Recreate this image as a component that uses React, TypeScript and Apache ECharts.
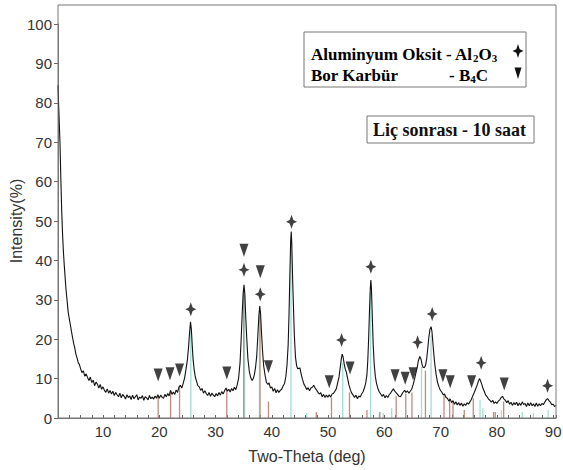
import React, { useEffect, useRef } from "react";
import * as echarts from "echarts";

// Measured XRD scan: [two-theta (deg), intensity (%)]
const PATTERN: [number, number][] = [
  [2.0, 84.5], [2.1, 80], [2.2, 76], [2.35, 70], [2.5, 61], [2.65, 53], [2.8, 47], [2.95, 42.5],
  [3.1, 39], [3.25, 36], [3.4, 33], [3.6, 30], [3.8, 27], [4.0, 25.2], [4.2, 23.6], [4.4, 21.9],
  [4.6, 20.3], [4.8, 18.8], [5.0, 17.6], [5.2, 16.1], [5.4, 15.2], [5.6, 14.0], [5.8, 13.6],
  [6.0, 12.6], [6.25, 11.5], [6.5, 12.0], [6.75, 10.6], [7.0, 11.2], [7.25, 10.3], [7.5, 9.5],
  [7.75, 10.4], [8.0, 9.0], [8.25, 9.6], [8.5, 8.2], [8.75, 9.1], [9.0, 8.6], [9.25, 7.6],
  [9.5, 8.5], [9.75, 7.3], [10.0, 7.9], [10.25, 7.0], [10.5, 6.5], [10.75, 7.4], [11.0, 6.3],
  [11.25, 7.0], [11.5, 6.1], [11.75, 6.8], [12.0, 5.7], [12.25, 6.5], [12.5, 5.9], [12.75, 5.4],
  [13.0, 6.3], [13.25, 5.1], [13.5, 6.0], [13.75, 5.5], [14.0, 4.8], [14.25, 5.9], [14.5, 5.2],
  [14.75, 5.6], [15.0, 4.7], [15.25, 5.8], [15.5, 4.9], [15.75, 5.4], [16.0, 5.9], [16.25, 4.6],
  [16.5, 5.3], [16.75, 5.0], [17.0, 5.7], [17.25, 4.5], [17.5, 5.4], [17.75, 5.1], [18.0, 4.6],
  [18.25, 5.7], [18.5, 4.9], [18.75, 5.3], [19.0, 4.8], [19.25, 5.6], [19.5, 5.0], [19.75, 5.9],
  [20.0, 5.0], [20.25, 5.8], [20.5, 5.3], [20.75, 5.0], [21.0, 6.0], [21.25, 5.4], [21.5, 6.2],
  [21.75, 5.6], [22.0, 7.0], [22.25, 6.0], [22.5, 6.6], [22.75, 6.0], [23.0, 7.1], [23.25, 6.5],
  [23.5, 7.9], [23.75, 8.3], [24.0, 7.6], [24.25, 8.8], [24.5, 10.2], [24.75, 12.4],
  [25.0, 14.8], [25.2, 18.0], [25.4, 22.0], [25.55, 24.4], [25.7, 22.5], [25.85, 18.5],
  [26.0, 15.0], [26.2, 12.2], [26.4, 10.4], [26.6, 9.4], [26.85, 8.2], [27.1, 7.9], [27.35, 7.0],
  [27.6, 7.5], [27.85, 6.3], [28.1, 6.9], [28.35, 6.2], [28.6, 5.7], [28.85, 6.5], [29.1, 5.5],
  [29.35, 6.3], [29.6, 5.8], [29.85, 5.4], [30.1, 6.2], [30.35, 5.6], [30.6, 6.5], [30.85, 5.8],
  [31.1, 6.7], [31.35, 6.1], [31.6, 6.9], [31.85, 7.6], [32.1, 6.8], [32.35, 7.3], [32.6, 6.6],
  [32.85, 7.5], [33.1, 6.9], [33.35, 7.8], [33.6, 7.2], [33.85, 8.4], [34.1, 10.2], [34.35, 14.0],
  [34.55, 20.0], [34.75, 27.0], [34.9, 31.5], [35.05, 33.8], [35.2, 31.5], [35.35, 26.0],
  [35.55, 20.0], [35.75, 15.0], [36.0, 11.8], [36.25, 10.2], [36.5, 9.5], [36.7, 10.0],
  [36.9, 11.0], [37.1, 12.8], [37.3, 15.5], [37.5, 20.5], [37.7, 26.0], [37.85, 28.4],
  [38.0, 26.5], [38.15, 22.0], [38.35, 17.0], [38.55, 13.2], [38.8, 10.8], [39.05, 9.0],
  [39.3, 8.5], [39.5, 8.9], [39.75, 7.6], [40.0, 7.9], [40.25, 6.8], [40.5, 7.5], [40.75, 6.4],
  [41.0, 7.2], [41.25, 6.5], [41.5, 7.0], [41.75, 7.3], [42.0, 8.1], [42.25, 8.7], [42.5, 10.6],
  [42.7, 13.5], [42.9, 18.5], [43.05, 26], [43.2, 36], [43.35, 45], [43.45, 47.3], [43.55, 44],
  [43.7, 35], [43.85, 28], [44.0, 21], [44.2, 15.5], [44.4, 13.3], [44.6, 12.5], [44.8, 12.6],
  [45.0, 12.7], [45.2, 11.2], [45.45, 9.8], [45.7, 8.6], [45.95, 8.0], [46.2, 7.2], [46.45, 7.7],
  [46.7, 6.9], [46.95, 7.6], [47.2, 7.8], [47.45, 8.3], [47.7, 7.6], [47.95, 7.1], [48.2, 6.5],
  [48.45, 6.1], [48.7, 6.4], [48.95, 5.4], [49.2, 6.0], [49.45, 5.2], [49.7, 5.8], [49.95, 5.3],
  [50.2, 5.9], [50.45, 5.3], [50.7, 6.1], [50.95, 6.2], [51.2, 6.8], [51.45, 7.4], [51.7, 8.9],
  [51.95, 10.5], [52.15, 12.8], [52.35, 15.0], [52.5, 16.2], [52.65, 15.6], [52.85, 13.8],
  [53.05, 12.4], [53.25, 11.6], [53.45, 10.2], [53.7, 8.4], [53.95, 7.2], [54.2, 6.3],
  [54.45, 5.8], [54.7, 5.2], [54.95, 5.8], [55.2, 4.9], [55.45, 5.6], [55.7, 5.3], [55.95, 6.1],
  [56.2, 6.6], [56.45, 7.6], [56.7, 9.0], [56.9, 11.0], [57.05, 14.5], [57.2, 20], [57.35, 27],
  [57.5, 33], [57.6, 35.0], [57.7, 33], [57.85, 26], [58.0, 19], [58.2, 13.5], [58.4, 10.5],
  [58.6, 8.8], [58.85, 7.5], [59.1, 6.6], [59.35, 6.1], [59.6, 5.5], [59.85, 6.0], [60.1, 5.1],
  [60.35, 5.7], [60.6, 5.2], [60.85, 5.9], [61.1, 6.3], [61.35, 6.9], [61.6, 7.4], [61.85, 6.8],
  [62.1, 6.4], [62.35, 6.0], [62.6, 5.5], [62.85, 5.4], [63.1, 6.0], [63.35, 6.6], [63.6, 7.0],
  [63.85, 6.5], [64.1, 6.9], [64.35, 6.3], [64.6, 6.8], [64.85, 7.3], [65.1, 8.4], [65.35, 9.8],
  [65.6, 11.4], [65.85, 13.0], [66.05, 14.6], [66.3, 15.6], [66.5, 15.0], [66.7, 13.6],
  [66.9, 12.8], [67.1, 12.8], [67.3, 13.3], [67.5, 14.8], [67.7, 17.5], [67.9, 20.5],
  [68.1, 22.5], [68.3, 23.2], [68.45, 22.0], [68.6, 19.5], [68.8, 16.0], [69.0, 13.2],
  [69.2, 11.0], [69.45, 9.0], [69.7, 7.9], [69.95, 7.0], [70.2, 6.6], [70.45, 5.9], [70.7, 6.1],
  [70.95, 5.2], [71.2, 5.0], [71.45, 4.3], [71.7, 4.8], [71.95, 3.9], [72.2, 4.4], [72.45, 3.5],
  [72.7, 4.1], [72.95, 3.3], [73.2, 3.9], [73.45, 3.2], [73.7, 3.8], [73.95, 3.0], [74.2, 3.6],
  [74.45, 3.2], [74.7, 3.9], [74.95, 3.5], [75.2, 4.1], [75.45, 4.7], [75.7, 5.6], [75.95, 6.4],
  [76.2, 7.3], [76.45, 8.2], [76.7, 9.3], [76.9, 10.0], [77.1, 9.4], [77.3, 8.6], [77.5, 7.6],
  [77.75, 6.8], [78.0, 5.8], [78.25, 5.4], [78.5, 4.8], [78.75, 4.5], [79.0, 4.0], [79.25, 4.5],
  [79.5, 3.7], [79.75, 4.1], [80.0, 3.7], [80.25, 4.3], [80.5, 4.6], [80.75, 5.2], [81.0, 5.5],
  [81.25, 4.8], [81.5, 4.5], [81.75, 3.9], [82.0, 4.4], [82.25, 3.5], [82.5, 4.0], [82.75, 3.2],
  [83.0, 3.9], [83.25, 3.4], [83.5, 4.0], [83.75, 3.1], [84.0, 3.8], [84.25, 3.2], [84.5, 4.1],
  [84.75, 3.4], [85.0, 3.7], [85.25, 2.9], [85.5, 3.8], [85.75, 3.1], [86.0, 3.9], [86.25, 3.1],
  [86.5, 3.6], [86.75, 2.9], [87.0, 3.8], [87.25, 3.0], [87.5, 3.6], [87.75, 3.1], [88.0, 3.7],
  [88.25, 3.4], [88.5, 4.0], [88.75, 4.6], [89.0, 4.9], [89.25, 4.4], [89.5, 4.0], [89.75, 3.4],
  [90.0, 3.5], [90.25, 2.9], [90.5, 3.2],
];

// Reference stick patterns: [two-theta, relative height]
const AL2O3_STICKS: [number, number][] = [
  [25.6, 23], [35.15, 31], [37.8, 26], [43.4, 44], [46.2, 1.2], [52.6, 14], [57.55, 32],
  [59.1, 1.2], [59.8, 1.3], [61.3, 2.5], [66.6, 13], [68.3, 21], [77.0, 4.5], [77.5, 2.5],
  [80.8, 2.0], [84.5, 1.5], [86.5, 1.3], [89.1, 2.0],
];
const B4C_STICKS: [number, number][] = [
  [19.8, 5.5], [22.0, 7.0], [23.6, 8.2], [32.0, 7.4], [35.0, 32], [37.9, 27], [39.4, 4.2],
  [47.9, 1.5], [50.6, 5.2], [53.8, 6.5], [56.9, 2.0], [59.2, 1.5], [62.1, 5.5], [63.8, 6.2],
  [64.9, 6.5], [67.3, 12], [70.6, 6.0], [71.6, 5.0], [72.2, 4.0], [74.2, 2.0], [75.8, 5.0],
  [79.4, 1.5], [79.7, 1.5], [81.2, 4.2],
];

// Phase identification markers: [two-theta, marker height]
const AL2O3_MARKS: [number, number][] = [
  [25.6, 27.6], [35.05, 37.6], [37.95, 31.4], [43.5, 49.8], [52.4, 19.8], [57.6, 38.4],
  [65.9, 19.2], [68.5, 26.4], [77.2, 14.0], [89.0, 8.2],
];
const B4C_MARKS: [number, number][] = [
  [19.8, 10.9], [21.9, 11.2], [23.6, 12.2], [32.0, 11.4], [35.05, 42.6], [37.95, 37.1],
  [39.4, 13.0], [50.2, 9.2], [53.9, 12.7], [61.9, 10.7], [63.7, 10.1], [65.1, 11.2],
  [70.4, 10.7], [71.7, 9.2], [75.5, 9.2], [81.3, 8.6],
];

const X_TICK_LABELS = [10, 20, 30, 40, 50, 60, 70, 80, 90];

const STAR_PATH = "path://M5,0 L6.7,5.3 L10,7 L6.7,8.7 L5,14 L3.3,8.7 L0,7 L3.3,5.3 Z";
const TRI_PATH = "path://M0,0 L10,0 L5,14 Z";

const SANS = "'Liberation Sans', Arial, sans-serif";
const SERIF = "'Liberation Serif', 'Times New Roman', serif";

const stickSeries = (data: [number, number][], color: string, z: number) => ({
  type: "custom",
  data,
  encode: { x: 0, y: 1 },
  z,
  silent: true,
  renderItem: (_params: any, api: any) => {
    const x = api.value(0);
    const h = api.value(1);
    const p0 = api.coord([x, 0]);
    const p1 = api.coord([x, h]);
    return {
      type: "line",
      shape: { x1: p0[0], y1: p0[1], x2: p1[0], y2: p1[1] },
      style: { stroke: color, lineWidth: 1.3 },
    };
  },
});

export default function App() {
  const ref = useRef<HTMLDivElement>(null);
  useEffect(() => {
    if (!ref.current) return;
    const chart = echarts.init(ref.current, undefined, { renderer: "svg" });
    const rich = {
      n: { fontSize: 17, fontFamily: SERIF, fontWeight: "bold", color: "#111", lineHeight: 20, verticalAlign: "bottom" },
      s: { fontSize: 11, fontFamily: SERIF, fontWeight: "bold", color: "#111", lineHeight: 12, verticalAlign: "bottom" },
    };
    chart.setOption({
      animation: false,
      backgroundColor: "#fff",
      grid: { left: 58, right: 7, top: 24, bottom: 52, outerBoundsMode: "none", containLabel: false },
      xAxis: {
        type: "value",
        min: 2,
        max: 90.5,
        interval: 2,
        name: "Two-Theta (deg)",
        nameLocation: "middle",
        nameGap: 30,
        nameMoveOverlap: false,
        nameTextStyle: { fontSize: 16, color: "#333", fontFamily: SANS },
        axisLine: { show: true, lineStyle: { color: "#777", width: 1 } },
        axisTick: { show: true, inside: true, length: 3, lineStyle: { color: "#666" } },
        axisLabel: {
          fontSize: 15,
          color: "#333",
          fontFamily: SANS,
          margin: 6,
          formatter: (v: number) => (X_TICK_LABELS.includes(v) ? String(v) : ""),
        },
        splitLine: { show: false },
      },
      yAxis: {
        type: "value",
        min: 0,
        max: 100,
        interval: 10,
        name: "Intensity(%)",
        nameLocation: "middle",
        nameGap: 34,
        nameMoveOverlap: false,
        nameTextStyle: { fontSize: 16, color: "#333", fontFamily: SANS },
        axisLine: { show: true, lineStyle: { color: "#777", width: 1 } },
        axisTick: { show: true, inside: false, length: 4, lineStyle: { color: "#666" } },
        axisLabel: { fontSize: 15, color: "#333", fontFamily: SANS, margin: 6 },
        splitLine: { show: false },
      },
      series: [
        stickSeries(AL2O3_STICKS, "#a3ddd4", 1),
        stickSeries(B4C_STICKS, "#c08a80", 2),
        {
          type: "line",
          data: PATTERN,
          symbol: "none",
          showSymbol: false,
          z: 3,
          lineStyle: { color: "#111", width: 1.1 },
        },
        {
          type: "scatter",
          data: AL2O3_MARKS,
          symbol: STAR_PATH,
          symbolSize: [11, 14],
          z: 4,
          itemStyle: { color: "#111" },
        },
        {
          type: "scatter",
          data: B4C_MARKS,
          symbol: TRI_PATH,
          symbolSize: [9, 13],
          z: 4,
          itemStyle: { color: "#111" },
        },
      ],
      graphic: [
        {
          type: "rect",
          shape: { x: 58, y: 5, width: 498, height: 413 },
          style: { fill: "none", stroke: "#777", lineWidth: 1 },
          silent: true,
          z: 10,
        },
        {
          type: "rect",
          shape: { x: 304, y: 32, width: 222, height: 55 },
          style: { fill: "#fff", stroke: "#777", lineWidth: 1 },
          z: 20,
        },
        {
          type: "text",
          x: 311,
          y: 53,
          z: 21,
          style: {
            text: "{n|Aluminyum Oksit - Al}{s|2}{n|O}{s|3}",
            rich,
            verticalAlign: "middle",
            align: "left",
          },
        },
        {
          type: "text",
          x: 311,
          y: 74,
          z: 21,
          style: { text: "{n|Bor Karbür}", rich, verticalAlign: "middle", align: "left" },
        },
        {
          type: "text",
          x: 449,
          y: 74,
          z: 21,
          style: { text: "{n|- B}{s|4}{n|C}", rich, verticalAlign: "middle", align: "left" },
        },
        {
          type: "polygon",
          z: 21,
          shape: {
            points: [
              [518, 44], [519.7, 49.3], [523.5, 51], [519.7, 52.7], [518, 58], [516.3, 52.7], [512.5, 51], [516.3, 49.3],
            ],
          },
          style: { fill: "#111" },
        },
        {
          type: "polygon",
          z: 21,
          shape: { points: [[514.5, 67.5], [521.5, 67.5], [518, 79]] },
          style: { fill: "#111" },
        },
        {
          type: "rect",
          shape: { x: 367, y: 116, width: 167, height: 27 },
          style: { fill: "#fff", stroke: "#777", lineWidth: 1 },
          z: 20,
        },
        {
          type: "text",
          x: 373,
          y: 130,
          z: 21,
          style: {
            text: "Liç sonrası - 10 saat",
            fontSize: 18,
            fontFamily: SERIF,
            fontWeight: "bold",
            fill: "#111",
            verticalAlign: "middle",
            align: "left",
          },
        },
      ],
    });
    return () => chart.dispose();
  }, []);
  return (
    <div
      ref={ref}
      style={{ position: "absolute", left: 0, top: 0, width: 563, height: 470, background: "#fff" }}
    />
  );
}
